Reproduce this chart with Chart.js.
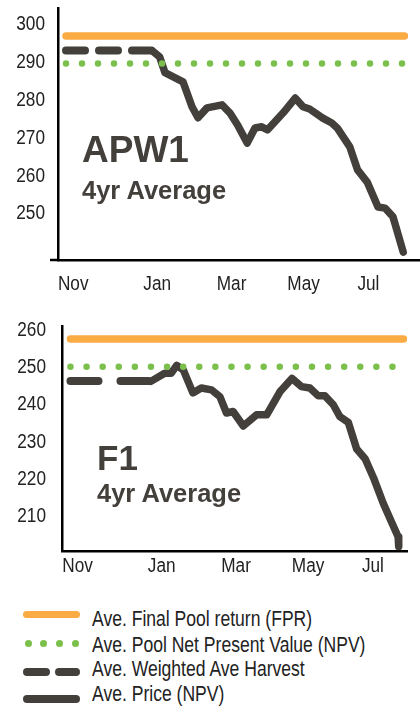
<!DOCTYPE html>
<html>
<head>
<meta charset="utf-8">
<script src="https://cdn.jsdelivr.net/npm/chart.js@4.4.1/dist/chart.umd.min.js"></script>
<style>
	html, body { margin: 0; padding: 0; background: #fff; }
	body { position: relative; width: 420px; height: 709px; overflow: hidden; }
	canvas { position: absolute; left: 0; }
	.big { position: absolute; font-family: 'Liberation Sans', Arial, sans-serif; font-weight: bold; color: #433f3b; line-height: 1; white-space: nowrap; }
	.leg { position: absolute; left: 92px; font-family: 'Liberation Sans', Arial, sans-serif; font-size: 22.5px; line-height: 1; color: #222; white-space: nowrap; transform: scaleX(0.78); transform-origin: 0 0; }
	.sw { position: absolute; border-radius: 4px; }
	.dot { position: absolute; width: 7px; height: 7px; border-radius: 50%; background: #7bbf4c; }
</style>
</head>
<body>
<canvas id="apw" width="420" height="300" style="top:0"></canvas>
<canvas id="f1" width="420" height="290" style="top:300px"></canvas>

<div class="big" style="left:82px;top:131px;font-size:37px">APW1</div>
<div class="big" style="left:82px;top:178px;font-size:25.5px">4yr Average</div>
<div class="big" style="left:97px;top:440px;font-size:35px">F1</div>
<div class="big" style="left:97px;top:481px;font-size:25.5px">4yr Average</div>

<div class="sw" style="left:23px;top:611px;width:57px;height:7px;background:#fbab43"></div>
<div class="leg" style="top:608px">Ave. Final Pool return (FPR)</div>
<div class="dot" style="left:25px;top:640px"></div>
<div class="dot" style="left:40px;top:640px"></div>
<div class="dot" style="left:56px;top:640px"></div>
<div class="dot" style="left:72px;top:640px"></div>
<div class="leg" style="top:633.5px">Ave. Pool Net Present Value (NPV)</div>
<div class="sw" style="left:23px;top:668px;width:27px;height:8px;background:#433f3b"></div>
<div class="sw" style="left:55px;top:668px;width:25px;height:8px;background:#433f3b"></div>
<div class="leg" style="top:658px">Ave. Weighted Ave Harvest</div>
<div class="sw" style="left:23px;top:695px;width:57px;height:8px;background:#433f3b"></div>
<div class="leg" style="top:682.5px">Ave. Price (NPV)</div>

<script>
// x values are days since 1 Nov
const monthTicks = [6, 76, 138, 198, 252];
const monthLabels = ['Nov', 'Jan', 'Mar', 'May', 'Jul'];

// APW1
const apwTicks = [250, 260, 270, 280, 290, 300];
const apwFpr = 296.6;
const apwNpv = 289.3;
const apwHarvest = 292.75;
const apwHarvestDays = [0, 72];
const apwFlatDays = [0, 282];
const apwDays = [72, 78, 82.5, 97.5, 105, 110, 117.5, 130, 136.5, 143, 151, 157.5, 163, 168, 181, 191, 197.5, 203, 214, 221.5, 226, 236.5, 243, 251, 260, 266, 272.5, 281];
const apwPrice = [292.7, 291.1, 286.9, 284.5, 277.9, 275.0, 277.6, 278.4, 276.3, 273.1, 268.3, 272.3, 272.6, 271.8, 276.3, 280.2, 277.9, 277.3, 274.9, 273.6, 272.3, 267.3, 261.2, 258.0, 251.4, 251.1, 248.8, 239.5];

// F1
const f1Ticks = [210, 220, 230, 240, 250, 260];
const f1Fpr = 257.3;
const f1Npv = 249.8;
const f1Harvest = 246.0;
const f1HarvestDays = [0, 66];
const f1FlatDays = [0, 277.5];
const f1Days = [67, 78.5, 84, 88.5, 94, 102, 109, 117.5, 124.5, 130, 135.5, 144, 155, 163.5, 174.5, 184.5, 192.5, 199.5, 206.5, 212, 219, 224.5, 231.5, 238.5, 245.5, 252.5, 260.5, 267.5, 273, 273.5];
const f1Price = [245.9, 248.1, 248.1, 250.2, 249.0, 242.8, 244.1, 243.6, 241.8, 237.4, 237.8, 233.9, 236.9, 236.9, 243.1, 246.7, 244.5, 244.1, 242.0, 242.0, 239.6, 236.4, 234.9, 227.7, 225.1, 220.0, 213.2, 208.1, 204.1, 201.5];

const ORANGE = '#fbab43';
const GREEN = '#7bbf4c';
const DARK = '#433f3b';
const TICK_SIZE = 20;

const flat = (days, v) => days.map(d => ({ x: d, y: v }));
const pts = (days, vals) => days.map((d, i) => ({ x: d, y: vals[i] }));

// no narrow font installed, so squeeze Liberation Sans for the tick labels
const narrowTicks = {
	id: 'narrowTicks',
	afterDraw: (chart, args, o) => {
		const { ctx } = chart;
		const xs = chart.scales.x;
		const ys = chart.scales.y;
		const put = (txt, x, y, align) => {
			ctx.save();
			ctx.translate(x, y);
			ctx.scale(0.86, 1);
			ctx.textAlign = align;
			ctx.fillText(txt, 0, 0);
			ctx.restore();
		};
		ctx.save();
		ctx.fillStyle = '#222';
		ctx.font = TICK_SIZE + "px 'Liberation Sans', Arial, sans-serif";
		ctx.textBaseline = 'alphabetic';
		xs.ticks.forEach((t, i) => put(monthLabels[i], xs.getPixelForValue(t.value), o.xBase, 'center'));
		ys.ticks.forEach(t => put(String(t.value), o.yRight, ys.getPixelForValue(t.value) + TICK_SIZE * 0.358, 'right'));
		// the bottom axis of the top chart pokes out left of the y axis
		if (o.stub) {
			ctx.strokeStyle = '#000';
			ctx.lineWidth = 2.5;
			ctx.beginPath();
			ctx.moveTo(o.stub, chart.chartArea.bottom);
			ctx.lineTo(chart.chartArea.left, chart.chartArea.bottom);
			ctx.stroke();
		}
		ctx.restore();
	}
};

const createChart = (id, c) => {
	return new Chart(document.getElementById(id), {
		type: 'line',
		data: {
			datasets: [
				{ data: flat(c.flatDays, c.fpr), borderColor: ORANGE, borderWidth: 7.5, borderCapStyle: 'round' },
				{ data: flat(c.flatDays, c.npv), borderColor: GREEN, borderWidth: 6.5, borderCapStyle: 'round', borderDash: [0, c.dot] },
				{ data: flat(c.harvestDays, c.harvest), borderColor: DARK, borderWidth: 8, borderCapStyle: 'round', borderDash: c.dash },
				{ data: pts(c.days, c.price), borderColor: DARK, borderWidth: 7.5, borderCapStyle: 'round', borderJoinStyle: 'round' },
			]
		},
		options: {
			responsive: false,
			animation: false,
			layout: { padding: c.padding },
			elements: { point: { radius: 0 }, line: { tension: 0 } },
			plugins: {
				legend: { display: false },
				tooltip: { enabled: false },
				narrowTicks: { xBase: c.xBase, yRight: c.yRight, stub: c.stub }
			},
			scales: {
				x: {
					type: 'linear',
					min: c.xMin,
					max: c.xMax,
					grid: { display: false, drawTicks: false },
					border: { display: true, color: '#000', width: 2.5 },
					afterBuildTicks: s => { s.ticks = monthTicks.map(v => ({ value: v })); },
					afterFit: s => { s.height = c.xHeight; },
					ticks: { display: false }
				},
				y: {
					min: c.yMin,
					max: c.yMax,
					grid: { display: false, drawTicks: false },
					border: { display: true, color: '#000', width: 2.5 },
					afterBuildTicks: s => { s.ticks = c.ticks.map(v => ({ value: v })); },
					afterFit: s => { s.width = c.yWidth; },
					ticks: { display: false }
				}
			}
		},
		plugins: [narrowTicks]
	});
};

createChart('apw', {
	fpr: apwFpr, npv: apwNpv, harvest: apwHarvest,
	flatDays: apwFlatDays, harvestDays: apwHarvestDays,
	days: apwDays, price: apwPrice, ticks: apwTicks,
	dash: [19, 14], dot: 16,
	xMin: -6.25, xMax: 295, yMin: 237.4, yMax: 304,
	padding: { top: 8, right: 0, left: 0, bottom: 0 },
	xHeight: 40, yWidth: 58.5, xBase: 290, yRight: 45, stub: 50
});

createChart('f1', {
	fpr: f1Fpr, npv: f1Npv, harvest: f1Harvest,
	flatDays: f1FlatDays, harvestDays: f1HarvestDays,
	days: f1Days, price: f1Price, ticks: f1Ticks,
	dash: [28, 22], dot: 16.1,
	xMin: -6.8, xMax: 280.4, yMin: 200.1, yMax: 260.6,
	padding: { top: 26.7, right: 13, left: 0, bottom: 0 },
	xHeight: 38.3, yWidth: 62.3, xBase: 271.7, yRight: 46, stub: 0
});
</script>
</body>
</html>
